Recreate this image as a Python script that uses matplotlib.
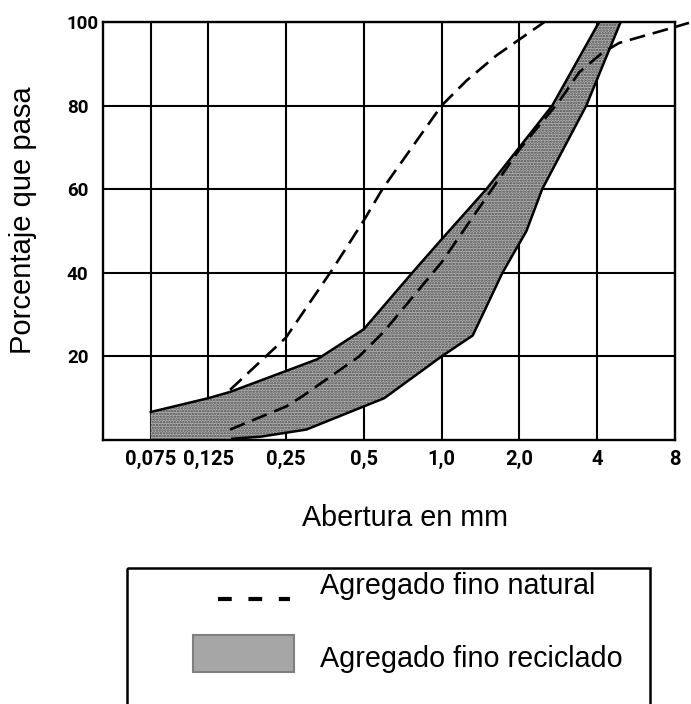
import matplotlib
matplotlib.use("Agg")
import matplotlib.pyplot as plt
import matplotlib.ticker as mticker
from matplotlib.patches import Rectangle
from matplotlib.lines import Line2D

plt.rcParams['font.family'] = ['Liberation Sans', 'DejaVu Sans']
plt.rcParams['hatch.linewidth'] = 1.2

# --- datos ---
tick_vals = [0.075, 0.125, 0.25, 0.5, 1.0, 2.0, 4.0, 8.0]
tick_labels = ["0,075", "0,125", "0,25", "0,5", "1,0", "2,0", "4", "8"]
y_ticks = [20, 40, 60, 80, 100]

# agregado fino reciclado (banda)
rec_sup_x = [0.075, 0.125, 0.152, 0.33, 0.5, 0.77, 1.0, 1.49, 2.68, 4.07]
rec_sup_y = [6.7, 10, 11.5, 19.3, 26.5, 40, 48, 60, 80, 100]
rec_inf_x = [0.075, 0.155, 0.2, 0.3, 0.6, 1.0, 1.32, 1.72, 2.13, 2.45, 3.63, 4.93]
rec_inf_y = [0, 0.3, 0.8, 2.5, 10, 20, 25, 40, 50, 60, 80, 100]

# agregado fino natural (limites)
nat_sup_x = [0.152, 0.25, 0.38, 0.5, 0.59, 1.0, 1.25, 1.63, 2.5]
nat_sup_y = [12, 24.5, 41, 52.5, 60, 80, 86, 92, 100]
nat_inf_x = [0.152, 0.25, 0.29, 0.48, 0.6, 1.0, 2.0, 2.85, 3.41, 4.18, 4.87, 7.8, 9.06]
nat_inf_y = [2.5, 8, 10.5, 20, 26, 42.5, 69.5, 81, 88, 92.6, 95, 98.6, 99.8]

W, H = 691, 704
fig = plt.figure(figsize=(W / 100, H / 100), dpi=100)
ax = fig.add_axes([103 / W, 1 - 440 / H, (675 - 103) / W, (440 - 22) / H])

# banda reciclado
band_x = rec_sup_x + rec_inf_x[::-1]
band_y = rec_sup_y + rec_inf_y[::-1]
ax.fill(band_x, band_y, facecolor='#b4b4b4', edgecolor='#4a4a4a',
        hatch='......', linewidth=0, zorder=2)
ax.plot(rec_sup_x, rec_sup_y, color='black', lw=1.8, zorder=3)
ax.plot(rec_inf_x[1:], rec_inf_y[1:], color='black', lw=1.8, zorder=3)

# natural (discontinuas)
for xs, ys in [(nat_sup_x, nat_sup_y), (nat_inf_x, nat_inf_y)]:
    ax.plot(xs, ys, color='black', lw=1.9, linestyle=(0, (6, 3)),
            zorder=4, clip_on=False)

ax.set_xscale('log')
ax.set_xlim(0.049, 8)
ax.set_ylim(0, 100)
ax.xaxis.set_major_locator(mticker.FixedLocator(tick_vals))
ax.xaxis.set_minor_locator(mticker.NullLocator())
ax.set_xticklabels(tick_labels)
ax.set_yticks(y_ticks)
ax.grid(True, color='black', lw=1.5, zorder=1)
ax.set_axisbelow(True)
for sp in ax.spines.values():
    sp.set_linewidth(1.7)
    sp.set_color('black')

ax.tick_params(axis='x', length=0, pad=7)
ax.tick_params(axis='y', length=0, pad=26)
for lab in ax.get_xticklabels():
    lab.set_fontfamily('Roboto')
    lab.set_fontweight('bold')
    lab.set_fontsize(14.5)
for lab in ax.get_yticklabels():
    lab.set_fontfamily('Roboto')
    lab.set_fontweight('bold')
    lab.set_fontsize(13.5)
    lab.set_horizontalalignment('left')

fig.text(23 / W, 1 - 220 / H, "Porcentaje que pasa", rotation=90,
         ha='center', va='center', fontsize=21)
fig.text(405 / W, 1 - 526 / H, "Abertura en mm", ha='center',
         va='baseline', fontsize=20.7)

# leyenda
lg = fig.add_axes([0, 0, 1, 1], facecolor='none')
lg.set_xlim(0, W)
lg.set_ylim(H, 0)
lg.axis('off')
lg.add_patch(Rectangle((127, 568), 650 - 127, 150, fill=False,
                       edgecolor='black', lw=1.8, clip_on=False))
lg.add_line(Line2D([218, 290], [599, 599], color='black', lw=3,
                   linestyle=(0, (3.3, 4))))
lg.add_patch(Rectangle((193, 635), 101, 37, facecolor='#a6a6a6',
                       edgecolor='#7f7f7f', lw=1.5))
lg.text(320, 594, "Agregado fino natural", fontsize=20.7, va='baseline')
lg.text(320, 667, "Agregado fino reciclado", fontsize=20.7, va='baseline')

fig.savefig("out.png", dpi=100)
